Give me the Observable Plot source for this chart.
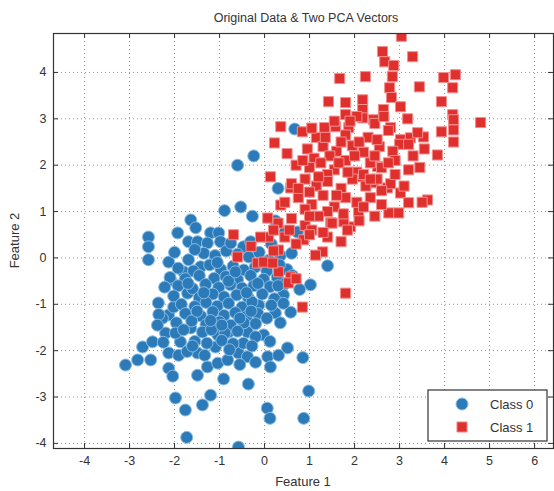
<!DOCTYPE html>
<html><head><meta charset="utf-8">
<script src="https://cdn.jsdelivr.net/npm/d3@7"></script>
<script src="https://cdn.jsdelivr.net/npm/@observablehq/plot@0.6"></script>
<style>body{margin:0;background:#fff;} #chart{width:554px;height:491px;}</style>
</head><body><div id="chart"></div>
<script>
const title = "Original Data & Two PCA Vectors";
const xLabel = "Feature 1";
const yLabel = "Feature 2";
const seriesNames = ["Class 0", "Class 1"];
const xTicks = [-4, -3, -2, -1, 0, 1, 2, 3, 4, 5, 6];
const yTicks = [-4, -3, -2, -1, 0, 1, 2, 3, 4];
const xDomain = [-4.69, 6.42];
const yDomain = [-4.11, 4.84];

// Class 0 points [feature1, feature2]
const class0 = [
[0.67,2.78],[-0.24,2.2],[-0.6,2.0],[0.3,1.5],[-0.53,1.1],[-0.89,1.02],[-0.27,0.9],[0.24,0.8],[0.73,0.56],[-1.64,0.82],
[-1.53,0.65],[-1.93,0.54],[-1.2,0.54],[-1.02,0.54],[-2.58,0.45],[-2.58,0.24],[-2.58,-0.04],[-2.13,-0.09],[-1.69,0.35],[-1.49,0.35],
[-1.27,0.32],[-0.98,0.35],[-0.47,0.24],[-0.31,0.35],[-1.69,-0.04],[-1.42,-0.19],[-1.8,-0.3],[-2.09,-0.48],[-2.36,-0.97],[-1.71,-0.76],
[1.4,-0.17],[1.02,-0.58],[0.42,-0.8],
[-2.71,-1.92],[-2.49,-1.81],[-3.09,-2.31],[-2.82,-2.2],[-2.53,-2.2],[-2.13,-2.05],[-1.91,-2.1],[-2.13,-2.38],[-2.04,-2.55],[-1.98,-3.02],
[-1.76,-3.28],[-1.73,-3.87],[-1.49,-2.53],[-1.2,-2.96],[-1.38,-3.17],[-1.27,-2.35],[-1.04,-2.27],[-0.82,-2.2],[-0.91,-2.61],[-0.58,-4.08],
[-0.36,-2.72],[-0.58,-2.05],[-0.38,-2.13],[0.07,-2.13],[0.13,-2.35],[0.31,-2.1],[0.51,-1.94],[0.85,-2.15],[0.06,-3.24],[0.12,-3.46],
[0.87,-3.46],[0.98,-2.87],[0.58,-1.17],[0.24,-1.19],[-0.02,-1.66],[-0.38,-1.6],[-0.47,-1.84],[-0.13,-1.02],[-0.8,-1.6],[-1.09,-1.92],
[-1.04,-1.66],[-1.49,-2.05],[-1.64,-1.51],[-2.2,-1.62],[-2.13,-1.23],[-2.27,-1.3],[-1.87,-1.81],[-2.02,-1.06],
[0.5,-0.25],[0.35,0.05],[0.6,0.1],[0.15,0.3],[0.45,0.55],
[-2.0,0.12],[-1.35,0.1],[-1.1,0.05],[-0.85,0.15],[-0.6,0.08],[-0.35,0.02],[-0.12,0.12],[0.1,-0.05],[-1.55,0.18],[-0.75,0.32],
[-1.92,-0.22],[-1.58,-0.28],[-1.22,-0.15],[-0.97,-0.25],[-0.7,-0.18],[-0.46,-0.26],[-0.21,-0.2],[0.05,-0.28],[0.33,-0.15],
[-2.1,-0.42],[-1.76,-0.45],[-1.45,-0.38],[-1.12,-0.44],[-0.86,-0.4],[-0.6,-0.47],[-0.31,-0.38],[-0.02,-0.46],[0.28,-0.42],[0.62,-0.38],
[-2.22,-0.63],[-1.92,-0.6],[-1.6,-0.66],[-1.31,-0.57],[-1.02,-0.64],[-0.76,-0.58],[-0.5,-0.65],[-0.24,-0.6],[0.12,-0.62],[0.45,-0.56],[0.78,-0.68],
[-2.02,-0.82],[-1.45,-0.86],[-1.15,-0.78],[-0.9,-0.84],[-0.62,-0.8],[-0.36,-0.86],[-0.05,-0.78],[0.22,-0.88],
[-1.85,-1.0],[-1.55,-1.05],[-1.3,-0.96],[-1.05,-1.04],[-0.8,-0.98],[-0.5,-1.06],[-0.28,-0.95],[0.15,-1.02],[0.42,-0.98],
[-2.35,-1.22],[-1.76,-1.2],[-1.42,-1.25],[-1.15,-1.16],[-0.9,-1.24],[-0.65,-1.18],[-0.4,-1.26],[-0.15,-1.2],[0.05,-1.3],
[-2.38,-1.45],[-1.96,-1.4],[-1.62,-1.36],[-1.3,-1.44],[-1.0,-1.38],[-0.75,-1.45],[-0.46,-1.4],[-0.2,-1.42],[0.35,-1.4],
[-1.98,-1.62],[-1.38,-1.6],[-1.18,-1.55],[-0.88,-1.62],[-0.6,-1.58],[-0.2,-1.7],
[-2.25,-1.82],[-1.55,-1.8],[-1.28,-1.84],[-0.95,-1.78],[-0.7,-1.85],[-0.28,-1.9],[0.12,-1.8],
[-1.72,-2.02],[-1.33,-2.1],[-0.78,-1.98],[-0.55,-2.3],[-0.2,-2.25],
[-1.7,-0.55],[-1.35,-0.75],[-0.8,-0.5],[-0.15,-0.55],[-1.2,-1.35],[-0.55,-1.3],[-1.5,-1.15],[-0.95,-1.45],[-1.8,-1.55],[-0.3,-1.15],
[0.3,-0.6],[-0.65,-0.3],[-1.05,-0.1],[-0.4,-0.75],[-1.6,-1.9]
];

// Class 1 points [feature1, feature2]
const class1 = [
[3.04,4.78],[2.62,4.45],[2.67,4.23],[2.87,4.15],[3.29,4.34],[2.84,3.91],[1.67,3.87],[2.24,3.91],[3.44,3.69],[3.98,3.89],
[4.24,3.95],[4.18,3.67],[3.93,3.37],[4.18,3.09],[4.2,2.98],[4.8,2.92],[1.42,3.37],[1.8,3.35],[2.18,3.41],[0.36,2.83],
[0.22,2.48],[1.33,2.81],[0.84,2.72],[2.78,3.67],[2.82,3.46],[3.02,3.26],[3.18,3.0],[3.93,2.72],[4.2,2.76],[4.2,2.5],
[3.84,2.22],[1.8,3.09],[2.18,3.2],[2.64,3.2],[2.18,3.02],[2.42,2.98],[2.8,2.81],[1.58,2.83],[1.87,2.81],[3.02,2.55],
[3.24,2.59],[3.53,2.61],[3.2,1.9],[2.51,1.97],[2.13,1.75],[2.42,1.62],[2.73,1.51],[3.02,1.4],[3.62,1.25],[3.2,1.19],
[3.5,1.2],[2.76,0.97],[2.98,0.97],[1.91,0.67],[1.8,-0.76],[1.29,0.13],[1.13,0.06],[0.87,0.39],[0.58,-0.41],[0.53,-0.54],
[0.31,-0.3],[0.13,1.75],[-0.69,0.5],[-0.6,0.02],[0.07,0.86],[0.09,0.45],[-0.09,0.45],[-0.16,-0.11],[-0.02,-0.09],[0.18,-0.11],
[0.31,0.17],[0.84,-1.06],[0.7,-0.45],[0.58,1.51],[0.36,1.14],[1.76,0.78],[1.84,0.6],[1.47,0.76],[2.09,1.0],
[1.55,2.95],[2.05,3.05],[2.45,2.9],[2.75,2.75],[1.15,2.6],[1.8,2.65],[2.3,2.6],[3.4,2.7],[3.0,2.45],
[0.95,2.35],[1.3,2.4],[1.6,2.3],[1.95,2.42],[2.2,2.28],[2.55,2.4],[2.85,2.3],[3.2,2.45],[3.55,2.35],[1.1,2.15],[1.45,2.2],
[0.7,2.0],[1.0,1.95],[1.25,2.05],[1.55,1.9],[1.8,2.1],[2.05,1.85],[2.35,2.05],[2.6,1.95],[2.9,2.1],[3.45,1.95],[1.4,1.8],[2.2,1.8],
[0.6,1.6],[0.9,1.7],[1.15,1.55],[1.4,1.65],[1.7,1.5],[1.95,1.7],[2.25,1.55],[2.5,1.7],[2.8,1.6],[3.1,1.55],[1.0,1.42],[2.6,1.45],
[0.45,1.2],[0.75,1.3],[1.05,1.15],[1.3,1.35],[1.55,1.1],[1.8,1.3],[2.05,1.2],[2.35,1.3],[2.6,1.15],[0.9,1.05],[1.4,1.0],
[0.3,0.75],[0.6,0.85],[0.9,0.7],[1.2,0.9],[1.5,0.75],[1.75,0.95],[2.1,0.8],[2.45,0.9],[1.05,0.6],
[0.45,0.45],[0.7,0.3],[1.0,0.5],[1.4,0.45],[1.7,0.35],[-0.3,0.25],[0.2,0.15],
[1.05,2.8],[1.7,2.5],[2.1,2.5],[2.45,2.2],[1.35,2.6],[0.85,2.1],[1.65,2.05],[2.0,2.2],[2.75,2.05],[1.2,1.75],
[1.85,1.85],[2.35,1.7],[0.75,1.5],[1.6,1.35],[2.2,1.1],[1.0,0.9],[1.3,0.55],[0.55,0.6],[0.2,0.6],[2.5,2.55],
[3.3,2.2],[2.9,1.8],[0.5,2.25],[1.9,2.95],[2.65,3.05]
];

const colors = {
  c0: "#2c7bb8", c0Edge: "#86bbe4",
  c1: "#e0302e", c1Edge: "#f29090",
  grid: "#707070", axis: "#333333", text: "#333333"
};

const W = 554, H = 491, mL = 53, mR = 1, mT = 33, mB = 43;
const pw = W - mL - mR, ph = H - mT - mB;
const font = "'Liberation Sans', Arial, sans-serif";
const fmt = d => String(d);
const r0 = 6, r1 = 5.7;

const chart = Plot.plot({
  width: W, height: H,
  marginLeft: mL, marginRight: mR, marginTop: mT, marginBottom: mB,
  style: {fontFamily: font, fontSize: "12px", color: colors.text, background: "#fff", overflow: "visible"},
  x: {domain: xDomain, label: null},
  y: {domain: yDomain, label: null},
  marks: [
    Plot.gridX(xTicks, {stroke: colors.grid, strokeOpacity: 0.75, strokeDasharray: "1,3"}),
    Plot.gridY(yTicks, {stroke: colors.grid, strokeOpacity: 0.75, strokeDasharray: "1,3"}),
    Plot.tickX(xTicks, {x: d => d, insetTop: ph - 5, stroke: colors.axis}),
    Plot.tickX(xTicks, {x: d => d, insetBottom: ph - 5, stroke: colors.axis}),
    Plot.tickY(yTicks, {y: d => d, insetRight: pw - 5, stroke: colors.axis}),
    Plot.tickY(yTicks, {y: d => d, insetLeft: pw - 5, stroke: colors.axis}),
    Plot.axisX(xTicks, {tickSize: 0, tickPadding: 8, tickFormat: fmt, label: null, fontSize: 12.5}),
    Plot.axisY(yTicks, {tickSize: 0, tickPadding: 7, tickFormat: fmt, label: null, fontSize: 12.5}),
    Plot.dot(class0, {x: d => d[0], y: d => d[1], r: r0, fill: colors.c0, stroke: colors.c0Edge, strokeWidth: 1, clip: true}),
    Plot.dot(class1, {x: d => d[0], y: d => d[1], r: r1, symbol: "square", fill: colors.c1, stroke: colors.c1Edge, strokeWidth: 1, clip: true}),
    Plot.frame({stroke: colors.axis, strokeWidth: 1.2})
  ]
});

const svg = d3.select(chart);
svg.append("text").attr("x", mL + pw / 2 + 3).attr("y", 22).attr("text-anchor", "middle")
  .attr("font-family", font).attr("font-size", 12.5).attr("fill", colors.text).text(title);
svg.append("text").attr("x", mL + pw / 2).attr("y", 486).attr("text-anchor", "middle")
  .attr("font-family", font).attr("font-size", 13).attr("fill", colors.text).text(xLabel);
svg.append("text").attr("transform", `translate(19,${mT + ph / 2}) rotate(-90)`).attr("text-anchor", "middle")
  .attr("font-family", font).attr("font-size", 13).attr("fill", colors.text).text(yLabel);

// legend
const lg = svg.append("g").attr("transform", "translate(428,390)");
lg.append("rect").attr("width", 119).attr("height", 51).attr("fill", "#fff").attr("stroke", colors.axis).attr("stroke-width", 1.2);
const sym = [d3.symbol(d3.symbolCircle, Math.PI * r0 * r0), d3.symbol(d3.symbolSquare, Math.PI * r1 * r1)];
const fills = [[colors.c0, colors.c0Edge], [colors.c1, colors.c1Edge]];
seriesNames.forEach((name, i) => {
  const yy = 14 + i * 23;
  lg.append("path").attr("d", sym[i]()).attr("transform", `translate(34,${yy})`)
    .attr("fill", fills[i][0]).attr("stroke", fills[i][1]).attr("stroke-width", 1);
  lg.append("text").attr("x", 62).attr("y", yy + 4.5).attr("text-anchor", "start").attr("font-family", font).attr("font-size", 13)
    .attr("fill", colors.text).text(name);
});

document.getElementById("chart").appendChild(chart);
</script>
</body></html>
